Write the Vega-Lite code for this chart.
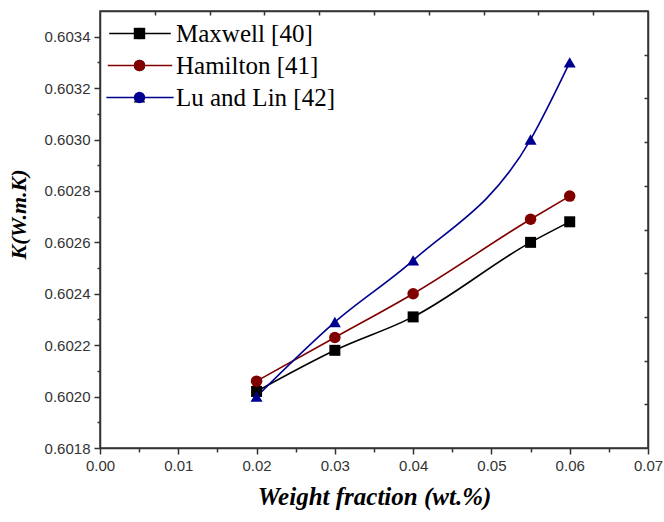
{
  "$schema": "https://vega.github.io/schema/vega-lite/v6.json",
  "width": 548,
  "height": 437,
  "autosize": {"type": "none"},
  "padding": {"left": 100, "top": 11, "right": 16, "bottom": 74},
  "background": "white",
  "config": {
    "view": {"stroke": "#333", "strokeWidth": 1.5},
    "axis": {
      "labelFont": "Liberation Sans",
      "labelFontSize": 15,
      "labelColor": "#333",
      "domainColor": "#333",
      "domainWidth": 1.5,
      "tickColor": "#333",
      "tickWidth": 1.5,
      "grid": false,
      "titleFont": "Liberation Serif",
      "titleFontWeight": "bold",
      "titleFontStyle": "italic",
      "titleColor": "#000"
    }
  },
  "data": {
    "values": [
      {"series": "Maxwell [40]", "x": 0.02, "y": 0.60202},
      {"series": "Maxwell [40]", "x": 0.03, "y": 0.60218},
      {"series": "Maxwell [40]", "x": 0.04, "y": 0.60231},
      {"series": "Maxwell [40]", "x": 0.055, "y": 0.6026},
      {"series": "Maxwell [40]", "x": 0.06, "y": 0.60268},
      {"series": "Hamilton [41]", "x": 0.02, "y": 0.60206},
      {"series": "Hamilton [41]", "x": 0.03, "y": 0.60223},
      {"series": "Hamilton [41]", "x": 0.04, "y": 0.6024},
      {"series": "Hamilton [41]", "x": 0.055, "y": 0.60269},
      {"series": "Hamilton [41]", "x": 0.06, "y": 0.60278},
      {"series": "Lu and Lin [42]", "x": 0.02, "y": 0.602},
      {"series": "Lu and Lin [42]", "x": 0.03, "y": 0.60229},
      {"series": "Lu and Lin [42]", "x": 0.04, "y": 0.60253},
      {"series": "Lu and Lin [42]", "x": 0.055, "y": 0.603},
      {"series": "Lu and Lin [42]", "x": 0.06, "y": 0.6033}
    ]
  },
  "layer": [
    {
      "mark": {"type": "line", "interpolate": "monotone", "strokeWidth": 1.6},
      "encoding": {
        "x": {
          "field": "x",
          "type": "quantitative",
          "scale": {"domain": [0, 0.07], "nice": false, "zero": false},
          "axis": {
            "orient": "bottom",
            "title": "Weight fraction (wt.%)",
            "titleFontSize": 25,
            "titlePadding": 11,
            "values": [0, 0.005, 0.01, 0.015, 0.02, 0.025, 0.03, 0.035, 0.04, 0.045, 0.05, 0.055, 0.06, 0.065, 0.07],
            "format": ".2f",
            "labelExpr": "round(datum.value*1000) % 10 === 0 ? datum.label : ''",
            "tickSize": {"condition": {"test": "round(datum.value*1000) % 10 === 0", "value": 6}, "value": 4},
            "labelPadding": 4,
            "labelFlush": false,
            "labelOverlap": false
          }
        },
        "y": {
          "field": "y",
          "type": "quantitative",
          "scale": {"domain": [0.6018, 0.6035], "nice": false, "zero": false},
          "axis": {
            "orient": "left",
            "title": "K(W.m.K)",
            "titleFontSize": 22,
            "titlePadding": 14,
            "titleY": 203,
            "values": [0.6018, 0.6019, 0.602, 0.6021, 0.6022, 0.6023, 0.6024, 0.6025, 0.6026, 0.6027, 0.6028, 0.6029, 0.603, 0.6031, 0.6032, 0.6033, 0.6034],
            "format": ".4f",
            "labelExpr": "round(datum.value*10000) % 2 === 0 ? datum.label : ''",
            "tickSize": {"condition": {"test": "round(datum.value*10000) % 2 === 0", "value": 6}, "value": 3},
            "labelPadding": 4,
            "labelFlush": false,
            "labelOverlap": false
          }
        },
        "color": {
          "field": "series",
          "type": "nominal",
          "scale": {
            "domain": ["Maxwell [40]", "Hamilton [41]", "Lu and Lin [42]"],
            "range": ["#000000", "#800000", "#000090"]
          },
          "legend": {
            "title": null,
            "orient": "none",
            "legendX": 27.5,
            "legendY": 10,
            "padding": 0,
            "symbolType": "M-5.6,0H5.6",
            "symbolSize": 100,
            "symbolStrokeWidth": 1.6,
            "labelFont": "Liberation Serif",
            "labelFontSize": 25,
            "labelColor": "#000",
            "labelOffset": 23.5,
            "rowPadding": 6,
            "labelLimit": 300
          }
        }
      }
    },
    {
      "mark": {"type": "point", "filled": true, "opacity": 1},
      "encoding": {
        "x": {
          "field": "x",
          "type": "quantitative",
          "axis": {
            "orient": "top",
            "title": null,
            "labels": false,
            "values": [0.007, 0.014, 0.021, 0.028, 0.035, 0.042, 0.049, 0.056, 0.063],
            "tickSize": -4
          }
        },
        "y": {
          "field": "y",
          "type": "quantitative",
          "axis": {
            "orient": "right",
            "title": null,
            "labels": false,
            "values": [0.60197, 0.60214, 0.60231, 0.60248, 0.60265, 0.60282, 0.60299, 0.60316, 0.60333],
            "tickSize": -4
          }
        },
        "size": {
          "field": "series",
          "type": "nominal",
          "scale": {
            "domain": ["Maxwell [40]", "Hamilton [41]", "Lu and Lin [42]"],
            "range": [121, 144, 190]
          },
          "legend": null
        },
        "fill": {
          "field": "series",
          "type": "nominal",
          "sort": ["Maxwell [40]", "Hamilton [41]", "Lu and Lin [42]"],
          "scale": {"range": ["#000000", "#800000", "#000090"]},
          "legend": {
            "title": null,
            "orient": "none",
            "legendX": 27,
            "legendY": 10,
            "padding": 0,
            "symbolSize": 130,
            "symbolStrokeWidth": 0,
            "labelFont": "Liberation Serif",
            "labelFontSize": 25,
            "labelExpr": "''",
            "rowPadding": 6
          }
        },
        "shape": {
          "field": "series",
          "type": "nominal",
          "sort": ["Maxwell [40]", "Hamilton [41]", "Lu and Lin [42]"],
          "scale": {"range": ["square", "circle", "triangle-up"]},
          "legend": {
            "title": null,
            "orient": "none",
            "legendX": 27,
            "legendY": 10,
            "padding": 0,
            "symbolSize": 130,
            "symbolStrokeWidth": 0,
            "labelFont": "Liberation Serif",
            "labelFontSize": 25,
            "labelExpr": "''",
            "rowPadding": 6
          }
        }
      }
    }
  ],
  "resolve": {"axis": {"x": "independent", "y": "independent"}}
}
